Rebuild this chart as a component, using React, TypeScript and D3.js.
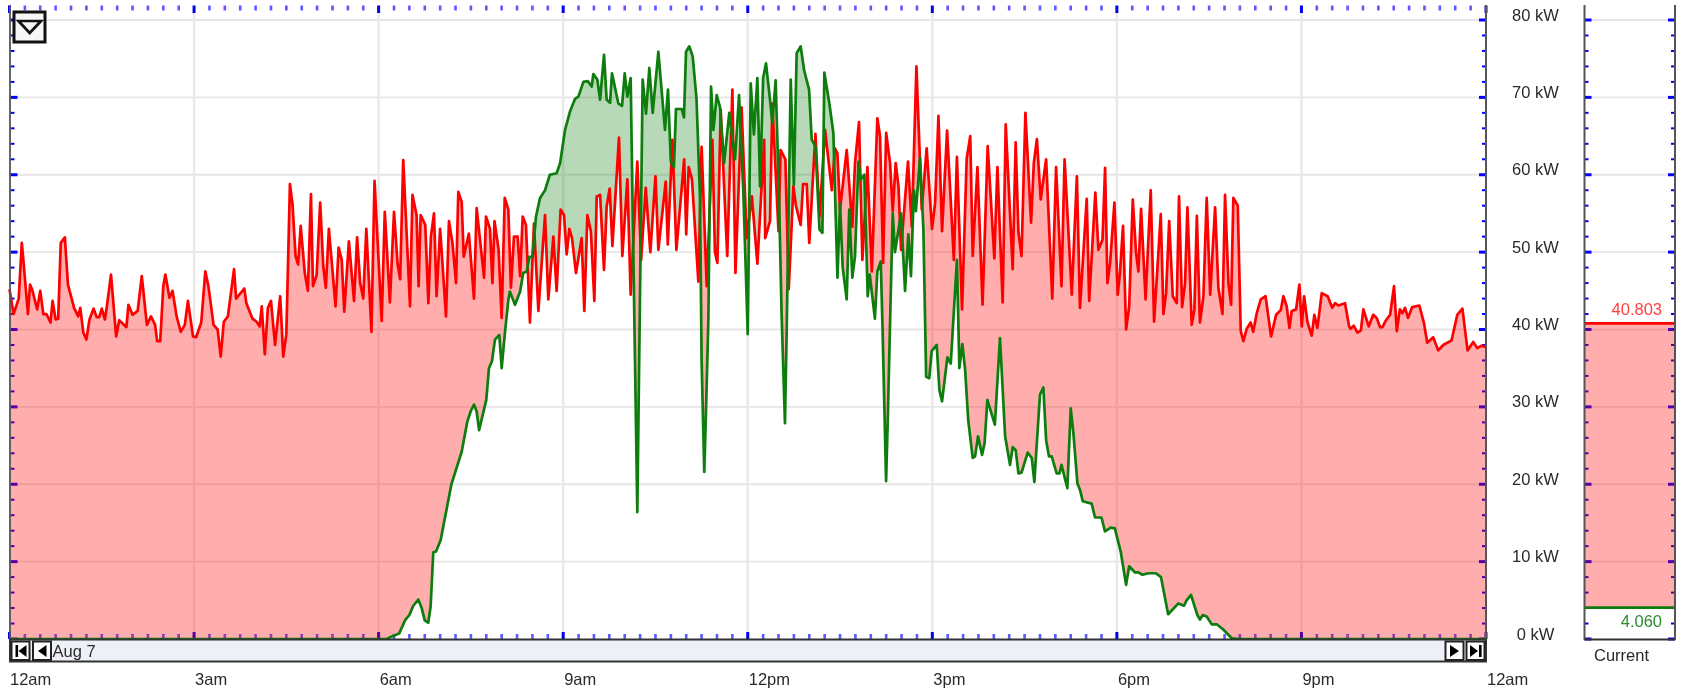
import React from "react";
import * as d3 from "d3";

type P = [number, number];

// [minutes after midnight, kW]
const redSeries: P[] = [
[0,45.2],[4,42],[9,44],[12,51.2],[13.5,49],[18,42],[20,45.8],[22,45.2],[27,42.6],[30,45],[33,42],[36,42],[40,40.9],[42,43.7],[45,41.3],[47.5,41.4],[50,51.2],[54,51.9],[57,45.8],[63,42.8],[67,41.7],[69,42.8],[72,39.6],[75,38.7],[78,41.3],[82,42.7],[85,41.6],[87.5,41.6],[90,42.7],[93,41.3],[95,43],[99,47.1],[104,39.1],[107,41.2],[114,40.3],[116,43.2],[120,41.9],[125,42.4],[129,46.9],[134,40.6],[138,41.7],[142,40.6],[144,38.5],[147,38.5],[150,45.6],[152,47.1],[156,44.1],[159,45],[163,41.7],[167,39.7],[171,40.6],[174,43.7],[179,39.1],[182,39],[187,40.9],[191,47.5],[194,45.6],[199,40.6],[203,40],[206,36.5],[209,41],[213,41.7],[219,47.8],[221,44],[229,45.3],[231,43.4],[237,41.4],[241,41],[244,40.4],[246,43],[249,36.8],[252,42.8],[255,43.7],[259,38],[264,44.3],[267,36.5],[270,39.4],[273.5,58.8],[276,56.2],[279,49.5],[281.5,48.4],[284,53.4],[288,47.3],[291,45],[294,57.5],[296,45.6],[299.5,47],[303,56.4],[306,48.2],[308.5,45.4],[311.5,53],[318,43],[321,50.6],[324,49],[326.5,42.3],[331,51.4],[336,43.7],[339,51.9],[342,46],[345,44],[348,53],[353,39.7],[356,59.2],[363,41.1],[366,55.2],[371,43.5],[375,55.2],[378.5,48.5],[381,46.5],[384,61.9],
[390.6,43],[393,57.4],[397,54.8],[399,45.6],[401,54.8],[405.5,53.5],[408.5,43.4],[411,52],[414,55],[416.5,44.3],[420,53],[425.7,41.7],[428.6,54],[432,51.2],[435.5,46],[437.7,57.8],[441,56.5],[443,49.4],[448,52.4],[453,44],[455.6,55.7],[462.8,46.7],[464.7,54.6],[468.6,53],[471,46],[473,54],[477,50.3],[480,41.5],[483,57],[486.5,55.5],[489,45.4],[492,52],[495.6,52],[498,46.9],[500.5,54.6],[503.7,53.5],[507.6,40.9],[511.5,53.7],[515.8,42.4],[522.3,54.8],[525.5,43.9],[530.4,52],[533.6,45],[537.5,55.5],[540.8,54.8],[543.4,49.7],[546,53],[548.6,51.8],
[552.5,47.3],[558,51.8],[560.6,42.4],[563.6,54.8],[567,52.7],[570.4,43.7],[572.7,57.2],[576,57.4],[579.8,47.7],[582.4,55.9],[585.3,58.2],[588,50.8],[594.4,64.8],[597.7,49.5],[602.6,59.4],[605.8,44.5],[612.3,61.7],[616,49],[620.5,58.3],[625,50],[630,59.8],[632.8,50.3],[640,59.1],[642,51],[646.5,64.5],[650.4,50.3],[658,62],[660,52.3],[662.4,61],[665.6,59.4],[671.8,46.2],[675,63.6],[680,45.6],[685.5,64.5],[688,50],[690.4,48.6],[693.6,68.4],[700,49.5],[705,71],[708,47.3],[714,68.7],[719,51.8],[724,57.2],[729.4,48.5],[736,64.5],[737,51.8],[741.7,54],[744,69.2],[750,52.7],[752,63.2],[756.7,62],[760,45.2],[764.5,58.5],[767,56],[771.6,53.5],[774,58.8],[777.5,58.8],[780,51.2],[786,65.3],[790,54.6],[795.4,65.8],[802,58],
[805,63.4],[807.4,62.8],[810,55.5],[816.5,63.2],[822,53.3],[824.6,61.5],[828.5,66.8],[831.8,49],[836.7,61],[841,47.5],[846.4,67.3],[849,65],[852,48.6],[855,65.4],[858.8,61.5],[861.4,55.3],[864.3,61.5],[867,58.5],[869.5,50.3],[876.3,61.7],[880,53.3],[884.5,74],[889.7,55.5],[894.5,63.4],[899.7,53],[902.7,56.3],[906,67.6],[909.5,52.7],[914.4,65.7],[921,49],[924,62.3],[929,42.6],[933.5,62],[937,65],[939.4,49.5],[944,61],[949,43.2],[954,63.7],[960.5,49.2],[963.5,61],[968.6,43.5],[971.6,66.5],[978.4,47.8],[981.3,64.2],[984,52.5],[987,49.5],[990.8,68],[996.3,53.8],[999,61.5],[1002,64.6],[1005.7,56.8],[1011,62],[1017,44],[1020.7,61],[1026,45.6],[1029,62],[1036,44.5],[1041,59.8],[1044,42.8],[1050.6,56.9],[1053,43.7],[1059,57.7],[1062,50.3],[1066,51.6],[1068.5,60.9],[1070.8,46],[1073.4,48.6],[1077.6,56.4],[1080.8,44.5],
[1083,47.3],[1086,53.4],[1089,40],[1092,43],[1095.5,56.8],[1098.7,49.9],[1101,47.5],[1103.6,55.6],[1108,43.9],[1113,58],[1116.3,41],[1122.8,54.9],[1125.4,42],[1128,44.7],[1131,54],[1134.5,44.3],[1138.4,43.4],[1140.6,57.2],[1143.6,42.9],[1146.5,46],[1148.8,55.8],[1153,40.6],[1155.6,42.6],[1158,54.7],[1161,40.9],[1164.4,44.3],[1167.6,57],[1171,44.5],[1175.8,55.8],[1179,45.4],[1183,42],[1185.5,57.4],[1188.8,46],[1191.4,43.2],[1193.6,57],[1197.9,56],[1200.8,39.8],[1203.4,38.5],[1206.6,40.1],[1210.5,40.9],[1213,39.7],[1216.4,42.1],[1220.3,43.9],[1225,44.3],[1230.4,39.1],[1235.3,41.9],[1239.8,42.5],[1242.4,44.3],[1245.6,43],[1248.3,40.2],[1250.5,42.4],[1254.8,42.6],[1258,45.8],[1260.3,40.4],[1262.6,44.3],[1265.8,41],[1270,39.2],[1272.6,41.9],[1275.6,40.2],[1279.8,44.7],[1285.6,44.3],[1290,42.8],[1292.8,43.4],[1296,43.1],[1302.5,43.4],[1306.5,40.4],[1308,40.1],[1311,40.5],[1314.6,39.6],[1318,39.9],[1320.4,42.6],[1325.6,40.4],[1330,41.9],[1333.4,41.5],[1336.7,40.3],[1339,40.3],[1342.5,41.2],[1346.5,41.9],[1350.3,45.6],[1353,39.8],
[1356,42.6],[1358.6,42.1],[1361,42.8],[1364,41.5],[1368,42.9],[1375,43.1],[1379.4,40.9],[1382.7,38.3],[1388.5,39],[1393.4,37.3],[1398.3,38],[1406.4,38.6],[1412,41.9],[1417,42.7],[1422,37.3],[1427.5,38.4],[1431.4,37.6],[1435.6,37.9],[1440,37.7],
];

const greenSeries: P[] = [
[0,0],[367.8,0],[374,0.4],[380,0.7],[385.7,2.4],[390,3.1],[393.8,4.3],[398.7,5.1],[402,4],[405,2.4],[408.4,2.1],[410.7,4.2],[413.3,11.2],[416,11.3],[420.5,12.8],[431,20],[441,24.2],[446.5,28.1],[449.7,29.4],[453,30.3],[455.6,29.4],[458,27],[465,30.9],[467.6,35],[470.5,35.9],[473.5,38.7],[477.7,39.3],[480,35],[483.5,40],[486.5,43.8],[488,44.9],[493,43.2],[498,44.9],[501,47.3],[504.4,47.5],[507,49.4],[510,49.4],[513.5,54.6],[517.4,57],[522.3,58],[527,60],[533.6,60.2],[537,61.5],[541.8,65.8],[546.7,68.2],[551.5,69.8],[554.8,70.1],[559.7,72],[564,72.1],[567.8,71.4],[569.4,73],[573.3,72.3],[576,69.7],[579.8,75.5],[582.4,69.7],[585.7,69.3],[587.6,73.1],[593.8,69.2],[597.4,68.9],[600,73.1],[602.6,70.1],[605.8,72.5],[612.3,16.4],[617.5,72.3],[620.8,67.9],[624,73.8],[627.3,68],[632.8,75.9],[639.3,65.8],[642.2,71],[645,61.7],[648,61],[650,68.5],[655.6,68.5],[657.8,67.4],[659.8,75.9],[663,76.6],[666.3,75.3],[670,69.9],[673.4,57.2],[675,36],[677.6,21.6],[679,28],[681.6,41.3],[684.2,71.4],[686.5,65.8],[689.7,70.3],[693,68.7],[696.9,61.5],[702,68],[707.6,62],[711.5,70.3],[715.7,57.8],[720,39.4],[722.9,71.8],[726,65.2],[729.4,72.5],[732,58.5],[735,72.5],[737.8,74.4],[741.7,69.7],[744,66.7],[747.2,72.2],[750.5,57.2],[753,42],[756.3,27.9],[758,40],[761.9,72.3],[765,58.7],[767.7,75.7],[771.6,76.6],[775,73.5],[779.8,71],[782.4,64.5],[786,63.7],[790,52.9],[792.8,52.5],[794.7,73.2],[799.6,69.2],[803.5,65.4],[807.5,46.7],[810,56.3],[812.6,48],[816.5,43.9],[819,55.5],[822,46.7],[824.6,49.5],[828,61.7],[830.2,59.4],[833.7,60],[837,44.3],[839,47.1],[844,41.4],[846.4,47.5],[849.7,48.8],[851.5,40],[854.9,20.4],[856.5,28],[859,42],[861.4,55],[863.6,50],[869.5,55],[873.4,45],[876.6,52.3],[879.2,46.9],[882,58],[884,55.3],[888,62.2],[891.3,52.9],[894,33.9],[897,33.7],[899.4,37.2],[904.3,38],[906.9,32.2],[909.5,30.7],[914.7,36.4],[918,35.6],[924,49],[926.4,35],[929.3,38.1],[932,34.8],[935,28.3],[939.4,23.4],[941.7,23.6],[944.6,26.2],[948.5,23.8],[951,25.3],[953.7,30.9],[961,27.7],[966,38.9],[971,26.2],[975.8,22.5],[978.4,24.8],[981.3,24.4],[984,21.4],[987,21.5],[993,24.1],[997,23.4],[999.5,20.3],[1005,31.6],[1008.3,32.5],[1011,25.7],[1013.8,23.6],[1016.4,23.6],[1021.3,21.4],[1024,21.4],[1026,22.5],[1031.7,19.5],[1035,29.8],[1037.6,26.6],[1041.5,20.1],[1044,19.3],[1046.7,17.8],[1055.4,17.5],[1058.7,15.7],[1065,15.7],[1068.4,13.9],[1074,14.4],[1078,14.3],[1083.7,11.3],[1089,7],[1092,9.4],[1097.7,8.6],[1101,8.6],[1105,8.3],[1110.7,8.5],[1118,8.5],[1123,8],[1130,3.2],[1140,4.6],[1145.5,4.3],[1148,5],[1152.3,5.7],[1158.5,3.1],[1161,2.5],[1163.7,3.1],[1167.6,2.9],[1172.5,1.9],[1177.4,1.9],[1184,1.2],[1192,0.1],[1200,0],[1440,0],
];

const currentRed = 40.803;
const currentGreen = 4.06;
const powerTicks = [0, 10, 20, 30, 40, 50, 60, 70, 80];
const minorPowerTicks = d3.range(0, 82, 2);
const hourTicks = [0, 180, 360, 540, 720, 900, 1080, 1260, 1440];
const hourLabels = ["12am", "3am", "6am", "9am", "12pm", "3pm", "6pm", "9pm", "12am"];
const minorHourTicks = d3.range(0, 1441, 15);
const dateLabel = "Aug 7";
const currentLabel = "Current";

const RED = "#ff0000";
const GREEN = "#0d7d0d";
const FONT = "'Liberation Sans', Arial, sans-serif";
const AXIS = "#555";
const GRID = "#e6e6e6";
const BLUE = "#0000ff";
const TEXT = "#2a2a2a";

const x = d3.scaleLinear().domain([0, 1440]).range([9.5, 1486]);
const y = d3.scaleLinear().domain([0, 80]).range([639, 20]);
const TOP = 5;
const BOTTOM = 639;

const lineGen = d3.line<P>().x((d) => x(d[0])).y((d) => y(d[1]));
const underGen = d3.area<P>().x((d) => x(d[0])).y0(BOTTOM).y1((d) => y(d[1]));
const aboveGen = d3.area<P>().x((d) => x(d[0])).y0(TOP).y1((d) => y(d[1]));

function Btn({ bx, w, path }: { bx: number; w: number; path: React.ReactNode }) {
  return (
    <g transform={`translate(${bx},641.5)`}>
      <rect x={0} y={0} width={w} height={18.5} fill="#fff" stroke="#222" strokeWidth={2} />
      {path}
    </g>
  );
}

export default function App() {
  const panelL = 1584.5;
  const panelR = 1675;
  return (
    <svg
      width={1688}
      height={690}
      style={{ position: "absolute", left: 0, top: 0, display: "block", filter: "blur(0.5px)" }}
      fontFamily={FONT}
    >
      <rect width={1688} height={690} fill="#fff" />
      <defs>
        <clipPath id="aboveGreen"><path d={aboveGen(greenSeries) || ""} /></clipPath>
        <clipPath id="aboveRed"><path d={aboveGen(redSeries) || ""} /></clipPath>
      </defs>

      {/* grid */}
      {powerTicks.map((v) => (
        <g key={v}>
          {v > 0 && <line x1={x(0)} x2={x(1440)} y1={y(v)} y2={y(v)} stroke={GRID} strokeWidth={1.8} />}
          {v > 0 && <line x1={panelL} x2={panelR} y1={y(v)} y2={y(v)} stroke={GRID} strokeWidth={1.8} />}
        </g>
      ))}
      {hourTicks.slice(1, -1).map((m) => (
        <line key={m} x1={x(m)} x2={x(m)} y1={TOP + 8} y2={BOTTOM} stroke="#e9e9e9" strokeWidth={2.4} />
      ))}

      {/* ticks, main plot */}
      {minorHourTicks.map((m) => {
        const major = m % 180 === 0;
        return (
          <g key={m} stroke={major ? "#0000ee" : "#5a5aff"} strokeWidth={major ? 3 : 2.6}>
            <line x1={x(m)} x2={x(m)} y1={TOP + 0.5} y2={major ? 13 : 10.5} />
            <line x1={x(m)} x2={x(m)} y1={major ? 632 : 634} y2={BOTTOM} />
          </g>
        );
      })}
      {minorPowerTicks.map((v) => {
        const major = v % 10 === 0;
        const len = major ? 7 : 4;
        return (
          <g key={v} stroke={BLUE} strokeWidth={major ? 3 : 2}>
            <line x1={10.5} x2={10.5 + len} y1={y(v)} y2={y(v)} />
            <line x1={1486 - len} x2={1486} y1={y(v)} y2={y(v)} />
            <line x1={panelL} x2={panelL + len} y1={y(v)} y2={y(v)} />
            <line x1={panelR - len} x2={panelR} y1={y(v)} y2={y(v)} />
          </g>
        );
      })}

      {/* fills */}
      <path d={underGen(redSeries) || ""} fill="#ff0000" fillOpacity={0.32} clipPath="url(#aboveGreen)" />
      <path d={underGen(greenSeries) || ""} fill="#128012" fillOpacity={0.3} clipPath="url(#aboveRed)" />

      {/* lines */}
      <path d={lineGen(redSeries) || ""} fill="none" stroke={RED} strokeWidth={2.7} strokeLinejoin="round" />
      <path d={lineGen(greenSeries) || ""} fill="none" stroke={GREEN} strokeWidth={2.7} strokeLinejoin="round" />

      {/* axis frame */}
      <line x1={10} x2={10} y1={TOP} y2={662} stroke={AXIS} strokeWidth={1.8} />
      <line x1={1486} x2={1486} y1={TOP} y2={662} stroke={AXIS} strokeWidth={2} />

      {/* menu button */}
      <rect x={14} y={12} width={31} height={30} fill="#f6f6f6" stroke="#111" strokeWidth={3} />
      <path d="M18.5,21 L41,21 L29.7,33 Z" fill="none" stroke="#111" strokeWidth={2.7} />

      {/* date bar */}
      <rect x={10} y={639.5} width={1476} height={22} fill="#eef0f8" stroke="#333" strokeWidth={2} />
      <Btn bx={11.5} w={18} path={<><rect x={4} y={3.5} width={2.6} height={12} fill="#000" /><path d="M15,3.5 L7,9.5 L15,15.5 Z" fill="#000" /></>} />
      <Btn bx={33} w={18} path={<path d="M13.5,3.5 L5,9.5 L13.5,15.5 Z" fill="#000" />} />
      <Btn bx={1445.5} w={18} path={<path d="M4.5,3.5 L13.5,9.5 L4.5,15.5 Z" fill="#000" />} />
      <Btn bx={1466.5} w={18} path={<><rect x={12.5} y={3.5} width={2.6} height={12} fill="#000" /><path d="M3.5,3.5 L11.5,9.5 L3.5,15.5 Z" fill="#000" /></>} />
      <text x={52.5} y={656.5} fontSize={16.5} fill={TEXT}>{dateLabel}</text>

      {/* x labels */}
      {hourTicks.map((m, i) => (
        <text key={i} x={x(m) + (i === 0 ? 0.5 : 1)} y={684.5} fontSize={16.5} fill={TEXT}>{hourLabels[i]}</text>
      ))}

      {/* y labels */}
      {powerTicks.map((v) => (
        <text key={v} x={1535.5} y={y(v) + 0.5} fontSize={16.5} fill={TEXT} textAnchor="middle">{`${v} kW`}</text>
      ))}

      {/* current panel */}
      <rect x={panelL} y={y(currentRed)} width={panelR - panelL} height={y(currentGreen) - y(currentRed)} fill="#ff0000" fillOpacity={0.32} />
      <line x1={panelL} x2={panelR} y1={y(currentRed)} y2={y(currentRed)} stroke={RED} strokeWidth={2.7} />
      <line x1={panelL} x2={panelR} y1={y(currentGreen)} y2={y(currentGreen)} stroke={GREEN} strokeWidth={2.7} />
      <line x1={panelL} x2={panelL} y1={TOP} y2={640} stroke={AXIS} strokeWidth={2} />
      <line x1={panelR} x2={panelR} y1={TOP} y2={640} stroke={AXIS} strokeWidth={2} />
      <line x1={panelL} x2={panelR} y1={639.5} y2={639.5} stroke="#333" strokeWidth={2} />
      <text x={1662} y={315} fontSize={16.5} fill="#ff4040" textAnchor="end">{currentRed.toFixed(3)}</text>
      <text x={1662} y={627} fontSize={16.5} fill="#2e8b2e" textAnchor="end">{currentGreen.toFixed(3)}</text>
      <text x={1621.5} y={661} fontSize={16.5} fill={TEXT} textAnchor="middle">{currentLabel}</text>
    </svg>
  );
}
